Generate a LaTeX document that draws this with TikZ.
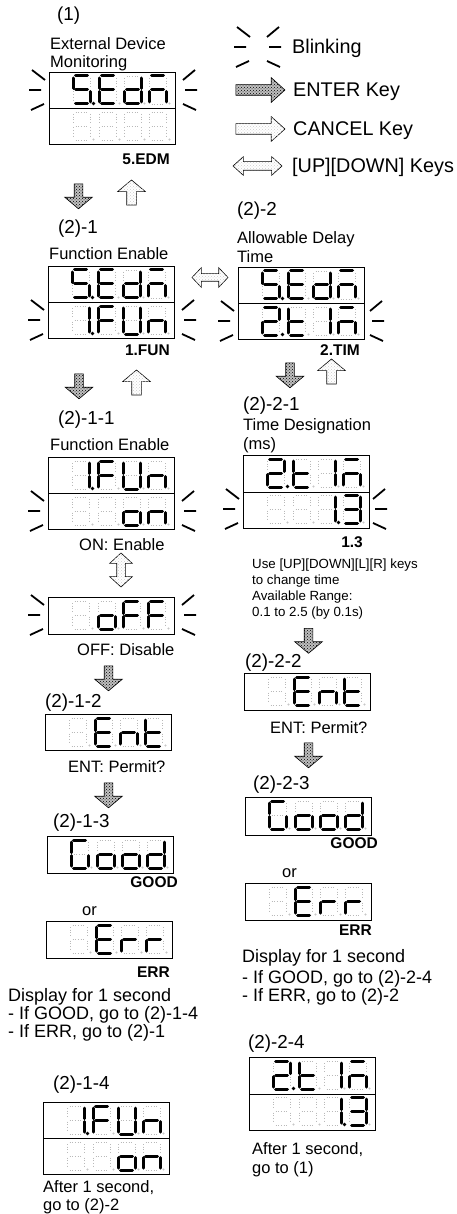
\documentclass[tikz,border=0pt]{standalone}
\usepackage{fontspec}
\setmainfont{Liberation Sans}
\usetikzlibrary{shapes.arrows,patterns}
\makeatletter
\newcommand\segm[3]{\in@{#1}{#2}\ifin@\draw[segon] #3;\else\draw[segoff] #3;\fi}
\newcommand\segdp[1]{\in@{p}{#1}\ifin@\fill[black] (20.5,27.5) circle[radius=1.8];\else\fill[gray!45] (20.5,27.5) circle[radius=1.1];\fi}
\makeatother
\newcommand\sevseg[3]{%
  \begin{scope}[shift={(#1,#2)}]
    \segm{a}{#3}{(2.5,0)--(14.5,0)}%
    \segm{b}{#3}{(17,2)--(17,12.5)}%
    \segm{c}{#3}{(17,15.5)--(17,26)}%
    \segm{d}{#3}{(2.5,28)--(14.5,28)}%
    \segm{e}{#3}{(0,15.5)--(0,26)}%
    \segm{f}{#3}{(0,2)--(0,12.5)}%
    \segm{g}{#3}{(2.5,14)--(14.5,14)}%
    \segdp{#3}%
  \end{scope}}
\newcommand\dfour[6]{\sevseg{#1+24}{#2+4}{#3}\sevseg{#1+50}{#2+4}{#4}\sevseg{#1+75}{#2+4}{#5}\sevseg{#1+100}{#2+4}{#6}}
\newcommand\blink[3]{%
  \draw[blinkl] (#1-13,#3-20)--(#1,#3-10) (#1-16,#3)--(#1-4,#3) (#1-14,#3+20)--(#1-1,#3+14)
    (#2,#3-10)--(#2+12,#3-20) (#2+2,#3)--(#2+14,#3) (#2,#3+14)--(#2+13,#3+20);}
\tikzset{
  segon/.style={line width=3, line cap=round, black},
  segoff/.style={line width=0.7, gray!55, dotted},
  blinkl/.style={line width=1.8, black},
  dispbox/.style={draw=black, line width=1.2, inner sep=0, anchor=north west, minimum width=126, minimum height=36},
  divl/.style={line width=1.2, black},
  txt/.style={anchor=base west, inner sep=0, font=\fontsize{16.5}{18}\selectfont},
  txtm/.style={anchor=base west, inner sep=0, font=\fontsize{18}{20}\selectfont},
  txts/.style={anchor=base west, inner sep=0, font=\fontsize{13.3}{15}\selectfont},
  stepl/.style={anchor=base west, inner sep=0, font=\fontsize{18.8}{20}\selectfont},
  lgd/.style={anchor=base west, inner sep=0, font=\fontsize{19.8}{22}\selectfont},
  bl/.style={anchor=base east, inner sep=0, font=\fontsize{15.5}{17}\selectfont\bfseries},
  enterbase/.style={single arrow, draw=black, line width=0.6, fill=gray!50, postaction={pattern=crosshatch dots}},
  cancelbase/.style={single arrow, draw=black, line width=0.6, fill=white, postaction={pattern=crosshatch dots, pattern color=gray!40}},
  enterD/.style={enterbase, shape border rotate=270, minimum height=25, minimum width=27, inner sep=4, single arrow head extend=9.5, single arrow tip angle=100},
  cancelU/.style={cancelbase, shape border rotate=90, minimum height=25, minimum width=27, inner sep=4.5, single arrow head extend=9, single arrow tip angle=100},
  enterR/.style={enterbase, minimum height=49, minimum width=24, inner sep=5, single arrow head extend=7, single arrow tip angle=84},
  cancelR/.style={cancelbase, minimum height=49, minimum width=24, inner sep=5, single arrow head extend=7, single arrow tip angle=84},
  udarrow/.style={double arrow, draw=black, line width=0.6, fill=white, postaction={pattern=crosshatch dots, pattern color=gray!40}},
}
\begin{document}
\begin{tikzpicture}[x=1pt,y=-1pt]
\fill[white] (0,0) rectangle (457,1214);
\useasboundingbox (0,0) rectangle (457,1214);

% ---------- legend
\blink{250}{267}{47}
\node[lgd] (lgBlink) at (292,54) {Blinking};
\node[enterR] (lgEnter) at (257.5,90) {};
\node[lgd] (lgEnterT) at (293,97) {ENTER Key};
\node[cancelR] (lgCancel) at (257.5,129) {};
\node[lgd] (lgCancelT) at (293,136) {CANCEL Key};
\node[udarrow, minimum height=49, minimum width=18, inner sep=4, double arrow head extend=5, double arrow tip angle=84] (lgUD) at (257.5,166) {};
\node[lgd] (lgUDT) at (292,173) {[UP][DOWN] Keys};

% ---------- (1)
\node[stepl] (s1) at (57,21) {(1)};
\node[txt] (t1a) at (50,50) {External Device};
\node[txt] (t1b) at (50,68) {Monitoring};
\node[dispbox, minimum height=72] (d1) at (49,72) {};
\draw[divl] (d1.west) -- (d1.east);
\dfour{49}{72}{afgcdp}{afged}{bcdeg}{agec}
\dfour{49}{108}{}{}{}{}
\blink{45}{183}{90}
\node[bl] (l1) at (170,165) {5.EDM};
\node[enterD] (a1) at (78.5,194.5) {};
\node[cancelU] (a2) at (131.5,194.5) {};

% ---------- (2)-1
\node[stepl] (s21) at (58,234) {(2)-1};
\node[txt] (t21) at (49,260) {Function Enable};
\node[dispbox, minimum height=72] (d21) at (48,266) {};
\draw[divl] (d21.west) -- (d21.east);
\dfour{48}{266}{afgcdp}{afged}{bcdeg}{agec}
\dfour{48}{302}{bcp}{afge}{bcdef}{ceg}
\blink{44}{182}{320}
\node[bl] (l21) at (170,355) {1.FUN};
\node[udarrow, minimum height=36, minimum width=19, inner sep=3.5, double arrow head extend=6, double arrow tip angle=93] (a3) at (210,277.5) {};
\node[enterD] (a4) at (79,384.5) {};
\node[cancelU] (a5) at (136.5,384.5) {};

% ---------- (2)-2
\node[stepl] (s22) at (237,216) {(2)-2};
\node[txt] (t22a) at (237,244) {Allowable Delay};
\node[txt] (t22b) at (237,263) {Time};
\node[dispbox, minimum height=72] (d22) at (238,267) {};
\draw[divl] (d22.west) -- (d22.east);
\dfour{238}{267}{afgcdp}{afged}{bcdeg}{agec}
\dfour{238}{303}{abgedp}{fged}{bc}{agec}
\blink{234}{370}{321}
\node[bl] (l22) at (360,355) {2.TIM};
\node[enterD] (a6) at (290,373.5) {};
\node[cancelU] (a7) at (331.5,373.5) {};

% ---------- (2)-1-1
\node[stepl] (s211) at (58,424) {(2)-1-1};
\node[txt] (t211) at (50,450) {Function Enable};
\node[dispbox, minimum height=72] (d211) at (48,457) {};
\draw[divl] (d211.west) -- (d211.east);
\dfour{48}{457}{bcp}{afge}{bcdef}{ceg}
\dfour{48}{493}{}{}{cdeg}{ceg}
\blink{44}{182}{511}
\node[txt] (ton) at (79,550) {ON: Enable};
\node[udarrow, shape border rotate=90, minimum height=34, minimum width=22, inner sep=4, double arrow head extend=7, double arrow tip angle=95] (a8) at (121,570) {};
\node[dispbox, minimum height=37] (doff) at (48,597) {};
\dfour{48}{597}{}{cdeg}{afge}{afge}
\blink{44}{182}{615}
\node[txt] (toff) at (77,655) {OFF: Disable};
\node[enterD] (a9) at (108.5,676.5) {};

% ---------- (2)-1-2
\node[stepl] (s212) at (45,707) {(2)-1-2};
\node[dispbox] (d212) at (45,714) {};
\dfour{45}{714}{}{afged}{ceg}{fged}
\node[txt] (t212) at (68,772) {ENT: Permit?};
\node[enterD] (a10) at (108.5,793.5) {};

% ---------- (2)-1-3
\node[stepl] (s213) at (53,827) {(2)-1-3};
\node[dispbox, minimum height=37] (d213) at (47,836) {};
\dfour{47}{836}{afedc}{cdeg}{cdeg}{bcdeg}
\node[bl] (l213g) at (178,887) {GOOD};
\node[txt] (or1) at (82,915) {or};
\node[dispbox, minimum height=37] (d213e) at (46,921) {};
\dfour{46}{921}{}{afged}{eg}{eg}
\node[bl] (l213e) at (170,977) {ERR};
\node[txtm] (t213a) at (8,1001) {Display for 1 second};
\node[txtm] (t213b) at (8,1019) {- If GOOD, go to (2)-1-4};
\node[txtm] (t213c) at (8,1037) {- If ERR, go to (2)-1};

% ---------- (2)-1-4
\node[stepl] (s214) at (53,1089) {(2)-1-4};
\node[dispbox, minimum height=72] (d214) at (43,1102) {};
\draw[divl] (d214.west) -- (d214.east);
\dfour{43}{1102}{bcp}{afge}{bcdef}{ceg}
\dfour{43}{1138}{}{}{cdeg}{ceg}
\node[txt] (t214a) at (43,1192) {After 1 second,};
\node[txt] (t214b) at (43,1210) {go to (2)-2};

% ---------- (2)-2-1
\node[stepl] (s221) at (243,410) {(2)-2-1};
\node[txt] (t221a) at (243,430) {Time Designation};
\node[txt] (t221b) at (243,449) {(ms)};
\node[dispbox, minimum height=73] (d221) at (243,455) {};
\draw[divl] (d221.west) -- (d221.east);
\dfour{243}{455}{abgedp}{fged}{bc}{agec}
\dfour{243}{491}{}{}{bcp}{abgcd}
\blink{239}{373}{509}
\node[bl] (l221) at (363,547) {1.3};
\node[txts] (t221c) at (252,568) {Use [UP][DOWN][L][R] keys};
\node[txts] (t221d) at (252,584) {to change time};
\node[txts] (t221e) at (252,600) {Available Range:};
\node[txts] (t221f) at (252,616) {0.1 to 2.5 (by 0.1s)};
\node[enterD] (a11) at (308.5,639) {};

% ---------- (2)-2-2
\node[stepl] (s222) at (245,667) {(2)-2-2};
\node[dispbox, minimum height=37] (d222) at (244,673) {};
\dfour{244}{673}{}{afged}{ceg}{fged}
\node[txt] (t222) at (270,733) {ENT: Permit?};
\node[enterD] (a12) at (308.5,753.5) {};

% ---------- (2)-2-3
\node[stepl] (s223) at (253,789) {(2)-2-3};
\node[dispbox, minimum height=38] (d223) at (245,797) {};
\dfour{245}{797}{afedc}{cdeg}{cdeg}{bcdeg}
\node[bl] (l223g) at (378,848) {GOOD};
\node[txt] (or2) at (282,877) {or};
\node[dispbox, minimum height=37] (d223e) at (245,883) {};
\dfour{245}{883}{}{afged}{eg}{eg}
\node[bl] (l223e) at (372,935) {ERR};
\node[txtm] (t223a) at (242,962) {Display for 1 second};
\node[txtm] (t223b) at (242,983) {- If GOOD, go to (2)-2-4};
\node[txtm] (t223c) at (242,1001) {- If ERR, go to (2)-2};

% ---------- (2)-2-4
\node[stepl] (s224) at (248,1048) {(2)-2-4};
\node[dispbox, minimum height=73] (d224) at (249,1057) {};
\draw[divl] (d224.west) -- (d224.east);
\dfour{249}{1057}{abgedp}{fged}{bc}{agec}
\dfour{249}{1093}{}{}{bcp}{abgcd}
\node[txt] (t224a) at (252,1154) {After 1 second,};
\node[txt] (t224b) at (252,1173) {go to (1)};
\end{tikzpicture}
\end{document}
